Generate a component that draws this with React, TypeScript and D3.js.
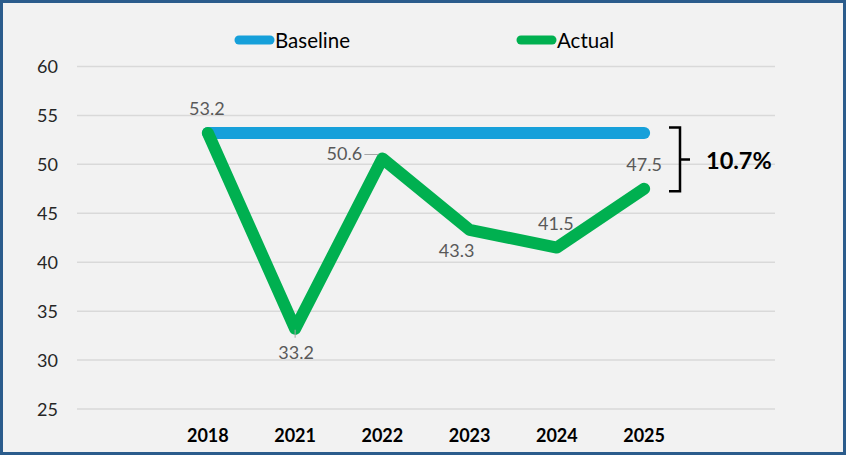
import React from "react";
import * as d3 from "d3";

const years = ["2018", "2021", "2022", "2023", "2024", "2025"];
const actual = [53.2, 33.2, 50.6, 43.3, 41.5, 47.5];
const baseline = [53.2, 53.2, 53.2, 53.2, 53.2, 53.2];
const yTicks = [25, 30, 35, 40, 45, 50, 55, 60];
const gapLabel = "10.7%";

// label placement: [dx, dy] relative to point (layout only)
const labelOffsets: [number, number][] = [
  [-1, -18],
  [1, 30],
  [-38, 2],
  [-13, 27],
  [-1, -18],
  [0, -18],
];

const W = 846;
const H = 455;
const FONT = "Lato, 'Open Sans', sans-serif";

export default function App() {
  const x = d3.scalePoint<string>().domain(years).range([77, 775]).padding(1.5);
  const y = d3.scaleLinear().domain([25, 60]).range([409, 66.5]);

  const line = d3
    .line<number>()
    .x((_, i) => x(years[i])!)
    .y((d) => y(d));

  const bx = 680;
  const bTop = y(baseline[baseline.length - 1]) - 5.5;
  const bBot = y(actual[actual.length - 1]) + 2.5;
  const bMid = (bTop + bBot) / 2;

  return (
    <div style={{ position: "fixed", left: 0, top: 0 }}>
      <svg width={W} height={H} style={{ display: "block" }}>
        <rect x={1.5} y={1.5} width={W - 3} height={H - 3} fill="#F2F2F2" stroke="#2B5C8C" strokeWidth={3} />
        {/* gridlines */}
        {yTicks.map((t) => (
          <g key={t}>
            <line x1={77} x2={775} y1={y(t)} y2={y(t)} stroke="#D9D9D9" strokeWidth={1.5} />
            <text x={58} y={y(t) + 6.5} textAnchor="end" fontFamily={FONT} fontSize={18} fill="#262626">
              {t}
            </text>
          </g>
        ))}
        {/* x labels */}
        {years.map((yr) => (
          <text key={yr} x={x(yr)} y={442} textAnchor="middle" fontFamily={FONT} fontSize={18} fontWeight="bold" fill="#000">
            {yr}
          </text>
        ))}
        {/* legend */}
        <line x1={239} x2={270} y1={40} y2={40} stroke="#16A0DA" strokeWidth={9} strokeLinecap="round" />
        <text x={275} y={47.5} fontFamily={FONT} fontSize={20.5} fill="#000">Baseline</text>
        <line x1={521} x2={552} y1={40} y2={40} stroke="#00B050" strokeWidth={9} strokeLinecap="round" />
        <text x={557} y={47.5} fontFamily={FONT} fontSize={20.5} fill="#000">Actual</text>
        {/* baseline */}
        <path d={line(baseline)!} fill="none" stroke="#16A0DA" strokeWidth={12} strokeLinecap="round" />
        {/* actual */}
        <path d={line(actual)!} fill="none" stroke="#00B050" strokeWidth={12} strokeLinecap="round" strokeLinejoin="round" />
        {/* leader lines */}
        <line x1={x(years[1])} x2={x(years[1])} y1={y(actual[1]) + 1} y2={y(actual[1]) + 9} stroke="#A6A6A6" strokeWidth={1} />
        <line x1={x(years[2])! - 18} x2={x(years[2])! - 4} y1={y(actual[2]) - 4} y2={y(actual[2]) - 4} stroke="#A6A6A6" strokeWidth={1} />
        {/* data labels */}
        {actual.map((v, i) => (
          <text
            key={i}
            x={x(years[i])! + labelOffsets[i][0]}
            y={y(v) + labelOffsets[i][1]}
            textAnchor="middle"
            fontFamily={FONT}
            fontSize={18}
            fill="#595959"
          >
            {v.toFixed(1)}
          </text>
        ))}
        {/* bracket */}
        <path
          d={`M${bx - 11},${bTop} H${bx} V${bBot} H${bx - 11} M${bx},${bMid} H${bx + 10}`}
          fill="none"
          stroke="#000"
          strokeWidth={2.5}
        />
        <text x={706} y={168.5} fontFamily={FONT} fontSize={23.5} fontWeight="bold" fill="#000">
          {gapLabel}
        </text>
      </svg>
    </div>
  );
}
